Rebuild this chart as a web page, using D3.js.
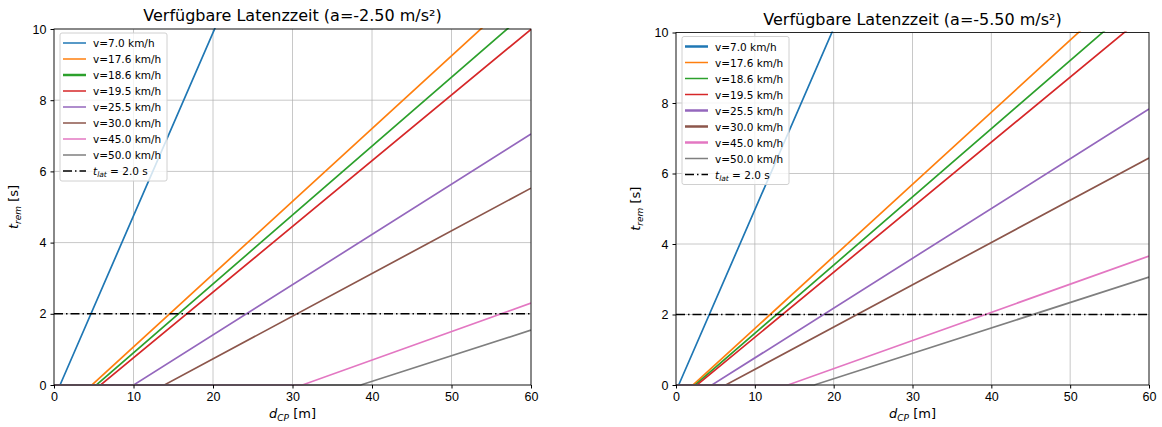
<!DOCTYPE html>
<html lang="de">
<head>
<meta charset="UTF-8">
<script src="https://cdn.jsdelivr.net/npm/d3@7"></script>
<style>
  body { margin: 0; background: #fff; }
  svg { font-family: "DejaVu Sans", sans-serif; }
  .grid line { stroke: #b0b0b0; stroke-opacity: 0.7; }
  .tick text { font-size: 12.5px; fill: #000; }
</style>
</head>
<body>
<svg width="1162" height="427"></svg>
<script>
// speeds (km/h), colours
var speeds = [7.0, 17.6, 18.6, 19.5, 25.5, 30.0, 45.0, 50.0];
var colors = ["#1f77b4", "#ff7f0e", "#2ca02c", "#d62728", "#9467bd", "#8c564b", "#e377c2", "#7f7f7f"];

// a = -2.50 : distance where t_rem reaches 0, and t_rem at d = 60 m
var startA = [0.76, 4.78, 5.34, 5.87, 10.03, 13.89, 31.25, 38.58];
var endA   = [30.47, 11.29, 10.58, 9.99, 7.05, 5.53, 2.30, 1.54];
// a = -5.50
var startB = [0.34, 2.17, 2.43, 2.67, 4.56, 6.31, 14.20, 17.54];
var endB   = [30.70, 11.83, 11.14, 10.58, 7.83, 6.44, 3.66, 3.06];

var tLat = 2.0;
var xTicks = [0, 10, 20, 30, 40, 50, 60];
var yTicks = [0, 2, 4, 6, 8, 10];

var svg = d3.select("svg");

var panels = [
  { title: "Verfügbare Latenzzeit (a=-2.50 m/s²)", start: startA, end: endA,
    left: 54, right: 531, top: 29, bottom: 385, thick: [2], id: "a" },
  { title: "Verfügbare Latenzzeit (a=-5.50 m/s²)", start: startB, end: endB,
    left: 676, right: 1149, top: 32.5, bottom: 385, thick: [0, 4, 5, 6], id: "b" }
];

panels.forEach(function(p) {
  var x = d3.scaleLinear().domain([0, 60]).range([p.left, p.right]);
  var y = d3.scaleLinear().domain([0, 10]).range([p.bottom, p.top]);

  svg.append("clipPath").attr("id", "clip-" + p.id)
     .append("rect")
     .attr("x", p.left).attr("y", p.top - 1)
     .attr("width", p.right - p.left).attr("height", p.bottom - p.top + 2);

  // grid
  var grid = svg.append("g").attr("class", "grid");
  grid.selectAll(".gx").data(xTicks).enter().append("line")
      .attr("x1", d => x(d)).attr("x2", d => x(d))
      .attr("y1", p.top).attr("y2", p.bottom);
  grid.selectAll(".gy").data(yTicks).enter().append("line")
      .attr("y1", d => y(d)).attr("y2", d => y(d))
      .attr("x1", p.left).attr("x2", p.right);

  // series
  var line = d3.line().x(d => x(d[0])).y(d => y(d[1]));
  var g = svg.append("g").attr("clip-path", "url(#clip-" + p.id + ")");
  speeds.forEach(function(v, i) {
    var pts = [[0, 0], [p.start[i], 0], [60, p.end[i]]];
    g.append("path").attr("d", line(pts))
     .attr("fill", "none").attr("stroke", colors[i]).attr("stroke-width", 1.7);
  });
  g.append("line")
   .attr("x1", p.left).attr("x2", p.right)
   .attr("y1", y(tLat)).attr("y2", y(tLat))
   .attr("stroke", "#000").attr("stroke-width", 1.6)
   .attr("stroke-dasharray", "9,3,1.5,3");

  // axes
  svg.append("g").attr("transform", "translate(0," + p.bottom + ")")
     .call(d3.axisBottom(x).tickValues(xTicks).tickSize(3.5).tickPadding(4))
     .call(s => s.select(".domain").remove());
  svg.append("g").attr("transform", "translate(" + p.left + ",0)")
     .call(d3.axisLeft(y).tickValues(yTicks).tickSize(3.5).tickPadding(4))
     .call(s => s.select(".domain").remove());

  svg.append("rect")
     .attr("x", p.left).attr("y", p.top)
     .attr("width", p.right - p.left).attr("height", p.bottom - p.top)
     .attr("fill", "none").attr("stroke", "#000").attr("stroke-width", 0.8);

  var cx = (p.left + p.right) / 2;
  svg.append("text").attr("x", cx).attr("y", p.top - 8)
     .attr("text-anchor", "middle").style("font-size", "16px").text(p.title);

  var xl = svg.append("text").attr("x", cx).attr("y", 418)
     .attr("text-anchor", "middle").style("font-size", "13px");
  xl.append("tspan").style("font-style", "italic").text("d");
  xl.append("tspan").style("font-style", "italic").style("font-size", "9px").attr("dy", 3).text("CP");
  xl.append("tspan").attr("dy", -3).text(" [m]");

  var ycy = (p.top + p.bottom) / 2;
  var yl = svg.append("text")
     .attr("transform", "translate(" + (p.left - 36) + "," + ycy + ") rotate(-90)")
     .attr("text-anchor", "middle").style("font-size", "13px");
  yl.append("tspan").style("font-style", "italic").text("t");
  yl.append("tspan").style("font-style", "italic").style("font-size", "9px").attr("dy", 3).text("rem");
  yl.append("tspan").attr("dy", -3).text(" [s]");

  // legend
  var lx = p.left + 6, ly = p.top + 4;
  var leg = svg.append("g").attr("transform", "translate(" + lx + "," + ly + ")");
  leg.append("rect").attr("width", 107).attr("height", 148).attr("rx", 2)
     .attr("fill", "#fff").attr("fill-opacity", 0.8)
     .attr("stroke", "#d0d0d0").attr("stroke-width", 1);
  var rowY = d3.scaleLinear().domain([0, 8]).range([10, 138]);
  speeds.forEach(function(v, i) {
    leg.append("line").attr("x1", 3).attr("x2", 26)
       .attr("y1", rowY(i)).attr("y2", rowY(i))
       .attr("stroke", colors[i])
       .attr("stroke-width", p.thick.indexOf(i) >= 0 ? 2.5 : 1.5);
    leg.append("text").attr("x", 33).attr("y", rowY(i) + 4)
       .style("font-size", "10.5px").text("v=" + v.toFixed(1) + " km/h");
  });
  leg.append("line").attr("x1", 3).attr("x2", 26)
     .attr("y1", rowY(8)).attr("y2", rowY(8))
     .attr("stroke", "#000").attr("stroke-width", 1.5)
     .attr("stroke-dasharray", "9,3,1.5,3");
  var lt = leg.append("text").attr("x", 33).attr("y", rowY(8) + 4).style("font-size", "10.5px");
  lt.append("tspan").style("font-style", "italic").text("t");
  lt.append("tspan").style("font-style", "italic").style("font-size", "7.5px").attr("dy", 2).text("lat");
  lt.append("tspan").attr("dy", -2).text(" = " + tLat.toFixed(1) + " s");
});
</script>
</body>
</html>
